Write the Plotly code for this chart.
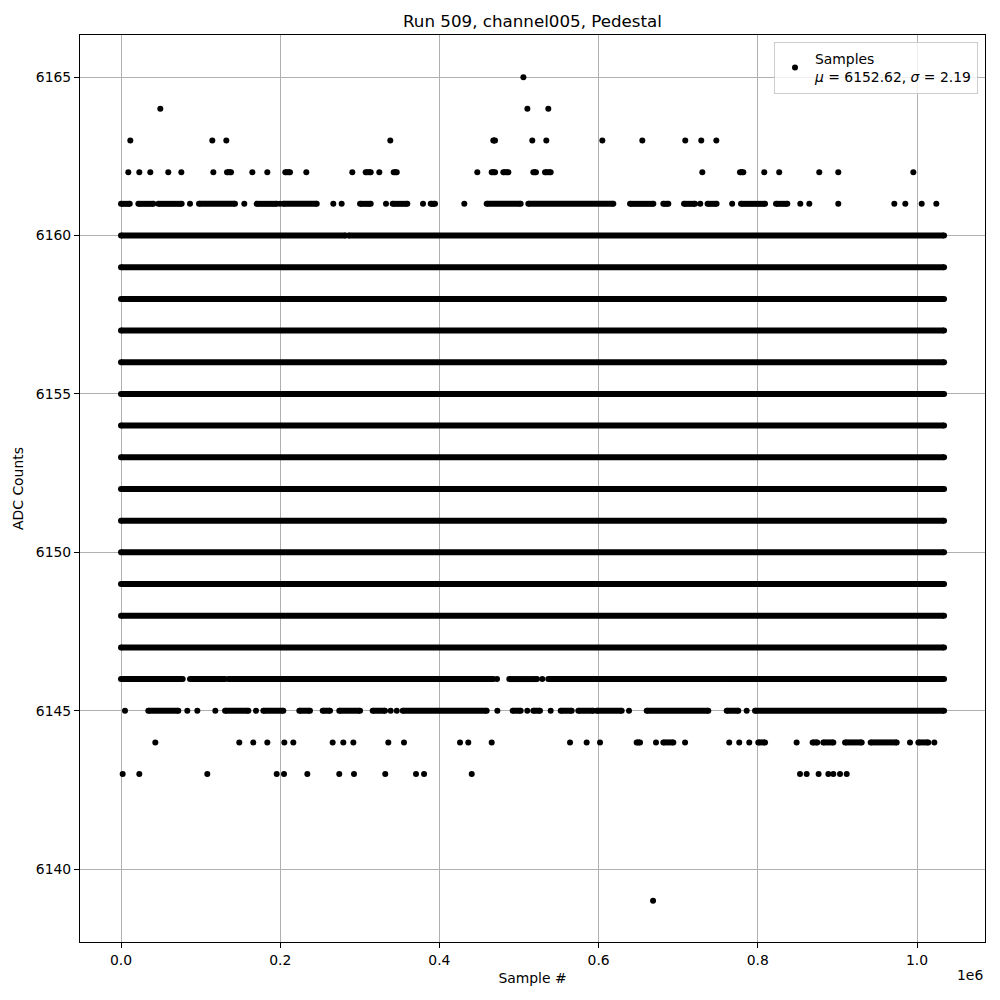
import plotly.graph_objects as go

# ---- data (sample positions in thousands of samples; tuples are dense runs start..end) ----
adc_6165 = [505.5]
adc_6164 = [49.4, 510.5, 536.8]
adc_6163 = [11.7, 114.7, 132.3, 338.3, (467.7, 469.9), 516.7, 534.3, 604.7, 654.9, 708.9, 729.0, 747.9]
adc_6162 = [9.2, 23.0, 36.8, 59.4, 75.8, 116.0, (133.2, 138.2), 165.0, 183.8, (206.4, 212.3), 232.8,
            290.6, (307.4, 313.7), 324.5, (342.6, 346.4), 447.6, (465.7, 469.9), (480.3, 486.6),
            (518.0, 521.3), (532.7, 539.8), 730.3, (777.6, 781.8), 808.1, 826.9, 877.2, 901.1, 995.4]
adc_6161 = [(0.0, 11.0), (21.8, 40.6), (46.9, 76.2), 86.7, (98.0, 143.2), 154.9, (170.4, 195.6), 199.8,
            (203.9, 245.9), 266.7, 277.2, (300.3, 313.7), 332.9, (341.3, 359.7), 379.4, (389.1, 394.5),
            431.3, (459.4, 502.1), (511.7, 618.5), (639.5, 668.8), (681.3, 687.6), (707.3, 721.1), 727.7,
            (736.9, 748.2), 767.8, (778.9, 809.1), (822.9, 837.1), 853.4, 864.7, 901.1, 971.5, 985.3,
            1005.9, 1024.3]
adc_6160 = [(0.0, 282.0), (286.0, 1034.0)]
dense_levels = [6147, 6148, 6149, 6150, 6151, 6152, 6153, 6154, 6155, 6156, 6157, 6158, 6159]
dense_span = (0.0, 1034.0)
adc_6146 = [(0.0, 77.5), (86.7, 130.7), (134.8, 218.6), (220.7, 467.7), 472.4, (487.8, 522.6), 529.3,
            (536.8, 752.5), (754.7, 1034.0)]
adc_6145 = [5.0, (34.3, 72.0), 83.3, 95.9, 118.5, (130.7, 160.0), 169.6, (178.8, 203.9), (224.0, 237.4),
            (253.4, 262.6), (274.2, 300.3), (316.2, 331.7), 338.8, 346.4, (353.9, 459.4), 472.8,
            (492.1, 502.1), 510.4, (518.0, 526.4), 539.8, (552.4, 566.2), (574.5, 593.3), (597.6, 629.0),
            638.2, (660.4, 737.8), (760.9, 775.5), 786.0, (796.5, 1034.0)]
adc_6144 = [43.1, 148.6, 166.2, 183.8, 205.2, 216.5, 265.9, 279.3, 291.9, 335.8, 355.5, 425.9, 436.3,
            465.7, 564.1, 585.0, 601.8, (647.8, 652.0), 672.1, (681.3, 693.9), 708.6, 764.1, 776.7, 789.3,
            (800.6, 809.1), 848.8, (868.9, 874.7), (882.3, 894.9), (909.6, 930.5), (941.8, 974.5), 991.2,
            (1001.7, 1014.2), 1021.8]
adc_6143 = [2.1, 23.0, 108.4, 195.6, 204.8, 234.1, 274.2, 292.7, 332.0, 370.6, 380.7, 440.6,
            853.0, 861.4, 876.4, 888.6, 894.9, 903.3, 911.7]
adc_6139 = [668.4]

rows = {6165: adc_6165, 6164: adc_6164, 6163: adc_6163, 6162: adc_6162, 6161: adc_6161,
        6160: adc_6160, 6146: adc_6146, 6145: adc_6145, 6144: adc_6144, 6143: adc_6143,
        6139: adc_6139}
for lv in dense_levels:
    rows[lv] = [dense_span]

x_tick_vals = [0, 200000, 400000, 600000, 800000, 1000000]
x_tick_text = ["0.0", "0.2", "0.4", "0.6", "0.8", "1.0"]
y_tick_vals = [6140, 6145, 6150, 6155, 6160, 6165]

title = "Run 509, channel005, Pedestal"
legend_label = "Samples<br><i>μ</i> = 6152.62, <i>σ</i> = 2.19"

# ---- build traces ----
px_single, py_single = [], []
rx, ry = [], []
for lv, items in rows.items():
    for it in items:
        if isinstance(it, tuple):
            rx += [it[0] * 1000, it[1] * 1000, None]
            ry += [lv, lv, None]
        else:
            px_single.append(it * 1000)
            py_single.append(lv)

FONT = "DejaVu Sans"
MS = 6
OFF = 8  # browser default body margin

fig = go.Figure()
fig.add_trace(go.Scatter(x=rx, y=ry, mode="lines+markers", connectgaps=False,
                         line=dict(color="black", width=MS),
                         marker=dict(color="black", size=MS), showlegend=False,
                         hoverinfo="skip"))
fig.add_trace(go.Scatter(x=px_single, y=py_single, mode="markers",
                         marker=dict(color="black", size=MS), name=legend_label,
                         showlegend=True))

fig.update_layout(
    width=1000, height=1000,
    margin=dict(l=80 - OFF, r=15 + OFF, t=35 - OFF, b=58 + OFF, autoexpand=False),
    plot_bgcolor="white", paper_bgcolor="white",
    font=dict(family=FONT, size=13.9, color="black"),
    title=dict(text=title, x=0.5, xref="paper", y=1 - (21 - OFF) / 1000, yref="container",
               xanchor="center", yanchor="middle", font=dict(size=16.7, family=FONT)),
    legend=dict(x=(978 - 80) / 905, y=(942 - 42) / 907, xanchor="right", yanchor="top",
                bordercolor="#cccccc", borderwidth=1, bgcolor="rgba(255,255,255,0.8)",
                font=dict(size=13.9, family=FONT), valign="middle"),
    showlegend=True,
)
fig.update_xaxes(range=[-51507, 1085427], tickvals=x_tick_vals, ticktext=x_tick_text,
                 showgrid=True, gridcolor="#b0b0b0", gridwidth=1, zeroline=False,
                 showline=True, linecolor="black", linewidth=1, mirror=True,
                 ticks="outside", ticklen=5, tickcolor="black",
                 title=dict(text="Sample #", standoff=6, font=dict(size=13.9)))
fig.update_yaxes(range=[6137.70, 6166.33], tickvals=y_tick_vals,
                 showgrid=True, gridcolor="#b0b0b0", gridwidth=1, zeroline=False,
                 showline=True, linecolor="black", linewidth=1, mirror=True,
                 ticks="outside", ticklen=5, tickcolor="black",
                 title=dict(text="ADC Counts", standoff=8, font=dict(size=13.9)))
fig.add_annotation(text="1e6", xref="paper", yref="paper", x=1.0, y=-(975 - 942) / 907,
                   xanchor="right", yanchor="middle", showarrow=False,
                   font=dict(size=13.9, family=FONT))

fig.write_html("out.html")
